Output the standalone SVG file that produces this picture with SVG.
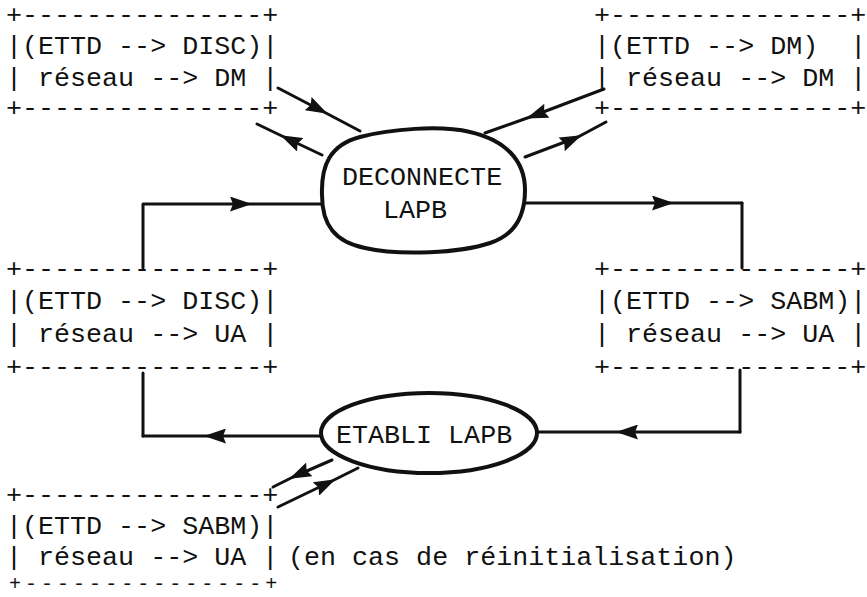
<svg xmlns="http://www.w3.org/2000/svg" width="867" height="597" viewBox="0 0 867 597" xml:space="preserve">
<style>
  text { font-family: "Liberation Mono", "DejaVu Sans Mono", monospace; font-size: 26.7px; fill: #111; white-space: pre; }
  .edge { font-size: 20px; letter-spacing: 4.02px; }
  .conn { fill: none; stroke: #111; stroke-width: 3; stroke-linecap: round; stroke-linejoin: round; }
  .state { fill: #fff; stroke: #111; stroke-width: 4; }
</style>
<defs>
  <marker id="arr" viewBox="0 0 22 15" refX="18" refY="7.5" markerWidth="22" markerHeight="15" markerUnits="userSpaceOnUse" orient="auto">
    <path d="M0,0 L22,7.5 L0,15 L3,7.5 z" fill="#111"/>
  </marker>
</defs>
<rect width="867" height="597" fill="#fff"/>

<g id="connectors">
  <path class="conn" d="M278,88 L324,112 L360,131" marker-mid="url(#arr)"/>
  <path class="conn" d="M322,155 L284,137 L257,124" marker-mid="url(#arr)"/>
  <path class="conn" d="M604,89 L530,117 L485,133" marker-mid="url(#arr)"/>
  <path class="conn" d="M525,157 L578,137 L606,122" marker-mid="url(#arr)"/>
  <path class="conn" d="M143,268 L143,204 L240,204"/>
  <path class="conn" d="M238,204 L248,204 L322,204" marker-mid="url(#arr)"/>
  <path class="conn" d="M525,203 L670,203 L742,203" marker-mid="url(#arr)"/>
  <path class="conn" d="M742,203 L742,268"/>
  <path class="conn" d="M740,370 L740,432"/>
  <path class="conn" d="M740,432 L620,432 L537,432" marker-mid="url(#arr)"/>
  <path class="conn" d="M322,436 L208,436 L143,436" marker-mid="url(#arr)"/>
  <path class="conn" d="M143,436 L143,373"/>
  <path class="conn" d="M332,460 L293,477 L273,487" marker-mid="url(#arr)"/>
  <path class="conn" d="M278,507 L332,481 L358,468" marker-mid="url(#arr)"/>
</g>

<g id="deconnecte">
  <path class="state" d="M322,195 C321,165 330,145 360,137 C390,129 440,125 470,132 C505,140 525,160 525,190 C525,215 515,235 490,243 C460,253 400,256 365,248 C335,242 322,225 322,195 Z"/>
  <text x="342" y="185">DECONNECTE</text>
  <text x="383" y="218">LAPB</text>
</g>

<g id="etabli">
  <ellipse class="state" cx="429" cy="433" rx="108" ry="40"/>
  <text x="336" y="443">ETABLI LAPB</text>
</g>

<g id="box-top-left">
  <text x="6" y="23">+---------------+<tspan x="6" y="54">|(ETTD --&gt; DISC)|</tspan><tspan x="6" y="86">| réseau --&gt; DM |</tspan><tspan x="6" y="116">+---------------+</tspan></text>
</g>

<g id="box-top-right">
  <text x="594" y="23">+---------------+<tspan x="594" y="54">|(ETTD --&gt; DM)  |</tspan><tspan x="594" y="86">| réseau --&gt; DM |</tspan><tspan x="594" y="116">+---------------+</tspan></text>
</g>

<g id="box-mid-left">
  <text x="6" y="277">+---------------+<tspan x="6" y="309">|(ETTD --&gt; DISC)|</tspan><tspan x="6" y="342">| réseau --&gt; UA |</tspan><tspan x="6" y="375">+---------------+</tspan></text>
</g>

<g id="box-mid-right">
  <text x="594" y="277">+---------------+<tspan x="594" y="309">|(ETTD --&gt; SABM)|</tspan><tspan x="594" y="342">| réseau --&gt; UA |</tspan><tspan x="594" y="375">+---------------+</tspan></text>
</g>

<g id="box-bottom">
  <text x="6" y="503">+---------------+<tspan x="6" y="534">|(ETTD --&gt; SABM)|</tspan><tspan x="6" y="565">| réseau --&gt; UA |</tspan></text>
  <text class="edge" x="9" y="590">+---------------+</text>
  <text x="288" y="565">(en cas de réinitialisation)</text>
</g>
</svg>
